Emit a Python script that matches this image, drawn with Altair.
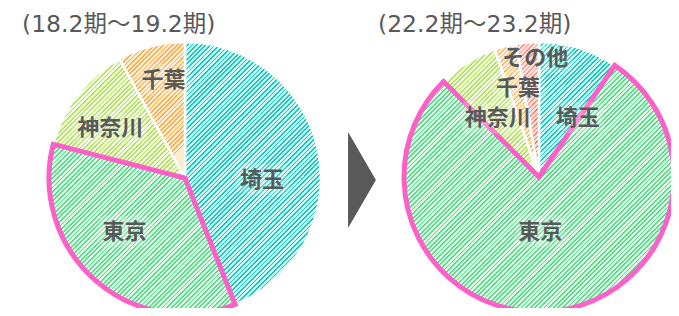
import math
import altair as alt

# ---- data ----
titles = ["(18.2期～19.2期)", "(22.2期～23.2期)"]
left_names = ["埼玉", "東京", "神奈川", "千葉"]
left_values = [44, 35, 13, 8]
right_names = ["埼玉", "東京", "神奈川", "千葉", "その他"]
right_values = [9.5, 78, 7.2, 2.6, 2.7]

# ---- styling ----
FONT = "Noto Sans CJK JP"
TITLE_FONT = "DejaVu Sans, Noto Sans CJK JP"
TEXT_COLOR = "#595959"
PINK = "#FF5FC8"
RADII = [136, 135]
CENTERS = [(177, 170), (531, 169)]
STRIPE = {
    "埼玉": ("#1CC3B6", "#C8FBF5"),
    "東京": ("#58DA8A", "#DAFAE4"),
    "神奈川": ("#B4DE66", "#F0FADA"),
    "千葉": ("#F5AF52", "#FDEBD0"),
    "その他": ("#F0806F", "#FCDBD4"),
}
LABEL_R = [
    {"埼玉": 77, "東京": 81, "神奈川": 90, "千葉": 100},
    {"埼玉": 71, "東京": 55, "神奈川": 72, "千葉": 91, "その他": 119},
]
LABEL_NUDGE = [
    {"埼玉": 12, "東京": 7, "神奈川": -4, "千葉": 2},
    {"埼玉": 16, "東京": 4, "神奈川": -3, "千葉": 1, "その他": 3},
]


def stripes(name, a0, a1, r, period=4.6, frac=0.38):
    pts = [(0.0, 0.0)]
    angs = [a0, a1] + [k * math.pi / 2 for k in range(5) if a0 < k * math.pi / 2 < a1]
    for a in angs:
        pts.append((r * math.sin(a), -r * math.cos(a)))
    xs = [p[0] for p in pts]
    ys = [p[1] for p in pts]
    w = max(max(xs) - min(xs), 1.0)
    h = max(max(ys) - min(ys), 1.0)
    m = max(w, h)
    d = m * period / (w * w + h * h)
    dark, light = STRIPE[name]
    stops = []
    k = 0
    while k * d < 1:
        o0 = k * d
        o1 = min(1.0, (k + frac) * d)
        o2 = min(1.0, (k + 1) * d)
        stops += [
            {"offset": round(o0, 5), "color": dark},
            {"offset": round(o1, 5), "color": dark},
            {"offset": round(o1, 5), "color": light},
            {"offset": round(o2, 5), "color": light},
        ]
        k += 1
    return {"gradient": "linear", "x1": 0, "y1": 0,
            "x2": round(w / m, 4), "y2": round(h / m, 4), "stops": stops}


def records(i, names, values):
    total = sum(values)
    recs = []
    cum = 0.0
    for j, (n, v) in enumerate(zip(names, values)):
        a0 = cum / total * 2 * math.pi
        a1 = (cum + v) / total * 2 * math.pi
        cum += v
        recs.append({
            "idx": j, "name": n, "value": v,
            "grad": stripes(n, a0, a1, RADII[i]),
            "edge": PINK if n == "東京" else "transparent",
            "lr": LABEL_R[i][n], "nudge": LABEL_NUDGE[i][n],
        })
    return recs


all_recs = [records(0, left_names, left_values), records(1, right_names, right_values)]


def pie_layers(i):
    cx, cy = CENTERS[i]
    base = alt.Chart(alt.Data(values=all_recs[i]))
    theta = alt.Theta("value:Q", stack=True)
    order = alt.Order("idx:Q")
    arcs = base.mark_arc(outerRadius=RADII[i], stroke="white", strokeWidth=2.5).encode(
        theta=theta, order=order,
        fill=alt.Fill("grad:N", scale=None),
        x=alt.value(cx), y=alt.value(cy),
    )
    edge = base.mark_arc(outerRadius=RADII[i], fillOpacity=0, strokeWidth=5,
                         strokeJoin="miter").encode(
        theta=theta, order=order,
        stroke=alt.Stroke("edge:N", scale=None),
        x=alt.value(cx), y=alt.value(cy),
    )
    lab = base.transform_window(
        cum="sum(value)", sort=[alt.SortField("idx")], frame=[None, 0]
    ).transform_joinaggregate(total="sum(value)").transform_calculate(
        ang="((datum.cum - datum.value / 2) / datum.total) * 2 * PI + datum.nudge * PI / 180"
    )
    enc = dict(
        theta=alt.Theta("ang:Q", scale=None),
        radius=alt.Radius("lr:Q", scale=None),
        text="name:N",
        x=alt.value(cx), y=alt.value(cy),
    )
    glow = lab.mark_text(font=FONT, fontSize=22, fontWeight="bold", color="white",
                         stroke="white", strokeWidth=12, strokeOpacity=0.45,
                         strokeJoin="round", opacity=0.45,
                         baseline="middle", align="center").encode(**enc)
    labels = lab.mark_text(font=FONT, fontSize=22, fontWeight="bold", color=TEXT_COLOR,
                           baseline="middle", align="center").encode(**enc)
    return [arcs, edge, glow, labels]


title_layers = []
for i, t in enumerate(titles):
    title_layers.append(
        alt.Chart(alt.Data(values=[{"t": t}])).mark_text(
            font=TITLE_FONT, fontSize=23.5, color=TEXT_COLOR, align="left", baseline="middle"
        ).encode(text="t:N", x=alt.value([14, 370][i]), y=alt.value(17))
    )

arrow = alt.Chart(alt.Data(values=[{"a": 1}])).mark_point(
    shape="M-0.29,-1L0.29,0L-0.29,1Z", filled=True, size=9216,
    color="#595959", opacity=1, strokeWidth=0,
).encode(x=alt.value(354), y=alt.value(172))

chart = alt.layer(
    *pie_layers(0), *pie_layers(1), arrow, *title_layers
).properties(
    width=663, height=300, padding=0, autosize=alt.AutoSizeParams(type="none")
).configure_view(stroke=None)

chart.save("out.html", embed_options={"renderer": "svg", "actions": False})
